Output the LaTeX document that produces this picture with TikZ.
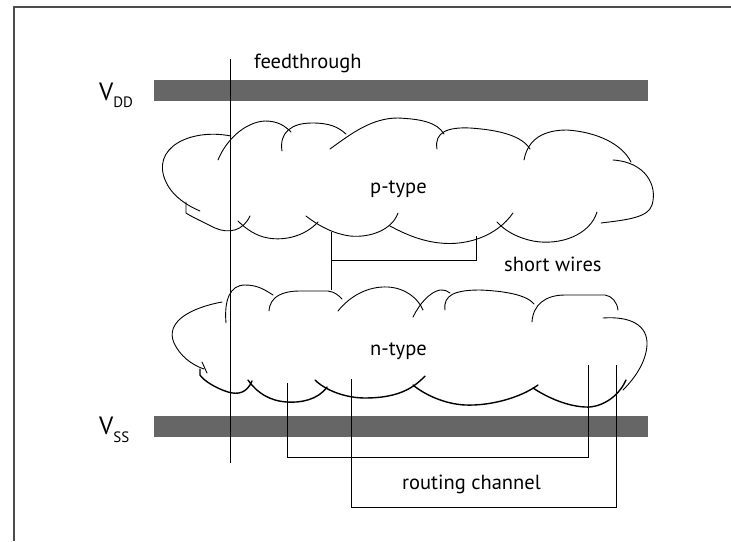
\documentclass[tikz,border=0pt]{standalone}
\usepackage{fontspec}
\setmainfont{PT Sans}
\usepackage{tikz}

\begin{document}
\begin{tikzpicture}[
    x=1pt, y=-1pt,
    rail/.style={fill=black!60},
    wire/.style={draw=black, line width=0.9pt},
    lobe/.style={draw=black, line width=0.9pt, line cap=round},
    heavy/.style={lobe, line width=1.4pt},
    lbl/.style={font=\fontsize{20.5}{22}\selectfont, inner sep=0pt, anchor=base west},
    frame/.style={draw=black!70, line width=1.6pt}
  ]

  \useasboundingbox (0,0) rectangle (731,541);
  \draw[frame] (14,541) -- (14,7) -- (731,7);

  % supply rails
  \fill[rail] (154,80) rectangle (648,101);
  \fill[rail] (154,416) rectangle (648,437);

  \node[lbl] (vdd) at (99,100)
    {{\fontsize{25}{25}\selectfont V}\raisebox{-7pt}{\fontsize{15}{15}\selectfont DD}};
  \node[lbl] (vss) at (99,434)
    {{\fontsize{25}{25}\selectfont V}\raisebox{-8pt}{\fontsize{15}{15}\selectfont SS}};

  % p-type cloud
  \draw[lobe] (231,136) .. controls (190,128) and (150,148) .. (166,182)
                        .. controls (173,197) and (188,206) .. (200,211);
  \draw[lobe] (218,160) .. controls (226,140) and (245,122) .. (265,121)
                        .. controls (278,121) and (285,126) .. (291,132);
  \draw[lobe] (282,151) .. controls (279,132) and (292,123) .. (312,123)
                        .. controls (330,123) and (338,127) .. (346,134);
  \draw[lobe] (330,149) .. controls (352,133) and (372,118) .. (398,118)
                        .. controls (420,119) and (437,122) .. (444,134);
  \draw[lobe] (437,149) .. controls (434,132) and (448,127) .. (470,128)
                        .. controls (500,130) and (522,136) .. (530,149);
  \draw[lobe] (524,160) .. controls (528,138) and (545,130) .. (567,130)
                        .. controls (597,132) and (622,144) .. (631,162);
  \draw[lobe] (613,160) .. controls (645,162) and (658,185) .. (652,205)
                        .. controls (648,218) and (625,220) .. (601,223);
  \draw[lobe] (597,212) .. controls (590,235) and (560,246) .. (533,241)
                        .. controls (518,238) and (505,231) .. (497,222);
  \draw[lobe] (513,213) .. controls (497,236) and (467,246) .. (440,243)
                        .. controls (420,241) and (403,233) .. (390,226);
  \draw[lobe] (398,213) .. controls (392,230) and (370,238) .. (350,236)
                        .. controls (335,234) and (320,227) .. (306,216);
  \draw[lobe] (318,222) .. controls (305,236) and (285,241) .. (268,238)
                        .. controls (256,236) and (246,229) .. (238,221);
  \draw[lobe] (250,216) .. controls (243,231) and (229,234) .. (215,228)
                        .. controls (203,222) and (192,217) .. (186,213) -- (186,202);

  % n-type cloud
  \draw[lobe] (222,302) .. controls (190,308) and (165,322) .. (174,343)
                        .. controls (180,356) and (192,365) .. (204,369);
  \draw[lobe] (202,362) -- (207,373);
  \draw[lobe] (226,323) .. controls (224,300) and (230,285) .. (245,285)
                        .. controls (258,285) and (265,290) .. (273,295);
  \draw[lobe] (269,311) .. controls (270,296) and (283,291) .. (300,291)
                        -- (328,291) .. controls (335,292) and (338,295) .. (342,299);
  \draw[lobe] (338,311) .. controls (350,296) and (368,286) .. (388,287)
                        .. controls (405,288) and (418,298) .. (423,310);
  \draw[lobe] (413,317) .. controls (420,303) and (430,292) .. (440,290)
                        .. controls (445,290) and (448,291) .. (450,293);
  \draw[lobe] (445,310) .. controls (443,295) and (455,290) .. (480,290)
                        .. controls (505,291) and (527,295) .. (534,304);
  \draw[lobe] (532,322) .. controls (533,305) and (545,295) .. (565,295)
                        -- (605,295) .. controls (612,296) and (617,302) .. (618,310);
  \draw[lobe] (603,318) .. controls (630,316) and (648,325) .. (647,345)
                        .. controls (646,362) and (635,378) .. (623,390);
  \draw[heavy] (626,380) .. controls (618,398) and (600,408) .. (585,407)
                         .. controls (565,406) and (545,396) .. (533,388);
  \draw[heavy] (538,385) .. controls (520,398) and (490,406) .. (465,405)
                         .. controls (445,404) and (425,395) .. (413,385);
  \draw[heavy] (425,376) .. controls (412,390) and (395,398) .. (365,398)
                         .. controls (345,398) and (325,390) .. (315,380);
  \draw[heavy] (327,387) .. controls (318,400) and (300,403) .. (287,402)
                         .. controls (270,401) and (257,393) .. (248,380);
  \draw[heavy] (252,381) .. controls (247,393) and (238,395) .. (228,392)
                         .. controls (215,388) and (203,380) .. (200,375) -- (200,369);

  \node[lbl] (ptype) at (370,193) {p-type};
  \node[lbl] (ntype) at (370,355) {n-type};

  % feedthrough
  \coordinate (ft top) at (230,59);
  \coordinate (ft bot) at (230,463);
  \draw[wire] (ft top) -- (ft bot);
  \node[lbl] (ftlbl) at (254,68) {feedthrough};

  % short wires between the clouds
  \coordinate (sw p) at (331,232);
  \coordinate (sw n) at (331,290);
  \coordinate (sw r) at (476,236);
  \draw[wire] (sw p) -- (sw n);
  \draw[wire] (331,260) -| (sw r);
  \node[lbl] (swlbl) at (504,271) {short wires};

  % routing channel
  \coordinate (ra1) at (287,383);
  \coordinate (ra2) at (588,365);
  \coordinate (rb1) at (351,379);
  \coordinate (rb2) at (616,365);
  \draw[wire] (ra1) |- (588,457) -- (ra2);
  \draw[wire] (rb1) |- (616,507) -- (rb2);
  \node[lbl] (rclbl) at (402,489) {routing channel};

\end{tikzpicture}
\end{document}
